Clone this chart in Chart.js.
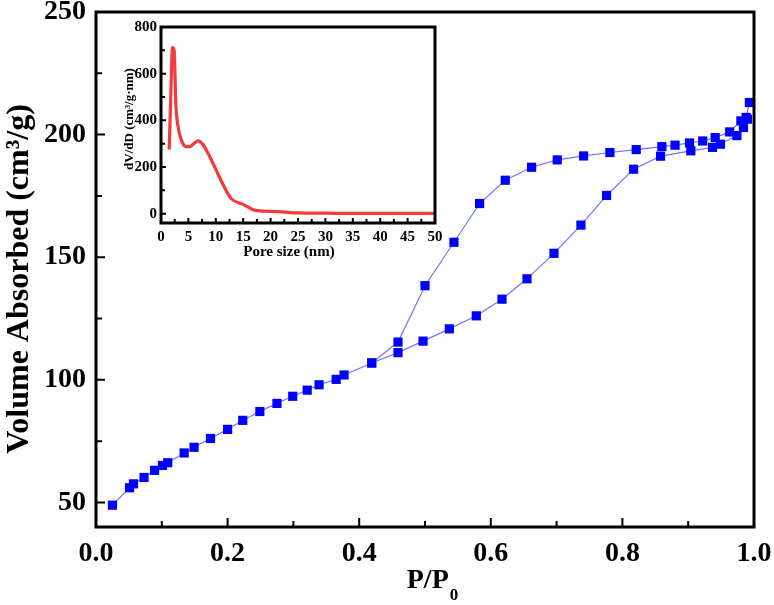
<!DOCTYPE html>
<html>
<head>
<meta charset="utf-8">
<script src="https://cdn.jsdelivr.net/npm/chart.js@4.4.1/dist/chart.umd.min.js"></script>
<style>
  html, body { margin: 0; padding: 0; background: #fff; }
  #wrap { position: relative; width: 774px; height: 605px; }
  #main { position: absolute; left: 0; top: 0; }
  #inset { position: absolute; left: 120px; top: 16px; }
</style>
</head>
<body>
<div id="wrap">
  <canvas id="main" width="774" height="605"></canvas>
  <canvas id="inset" width="325" height="250"></canvas>
</div>
<script>
/* ── Isotherm data (P/P0 vs volume absorbed, cm3/g) ── */
const adsP = [0.025, 0.051, 0.057, 0.073, 0.089, 0.101, 0.109, 0.134, 0.149, 0.174, 0.200, 0.223, 0.249,
              0.275, 0.299, 0.321, 0.339, 0.365, 0.377, 0.419, 0.459, 0.497, 0.537, 0.578, 0.617, 0.655,
              0.696, 0.737, 0.776, 0.817, 0.858, 0.904, 0.937, 0.949, 0.974, 0.984, 0.990];
const adsV = [48.9, 56.0, 57.6, 60.2, 63.1, 65.1, 66.2, 70.2, 72.5, 76.1, 79.8, 83.5, 87.1,
              90.4, 93.3, 95.8, 98.0, 100.2, 102.0, 106.9, 111.1, 115.8, 120.8, 126.1, 132.9, 141.2,
              151.6, 163.1, 175.2, 185.9, 191.2, 193.4, 194.8, 196.1, 199.6, 202.9, 206.3];

const desP = [0.993, 0.988, 0.980, 0.963, 0.941, 0.922, 0.902, 0.880, 0.860, 0.821, 0.781, 0.741,
              0.701, 0.662, 0.622, 0.583, 0.544, 0.500, 0.459, 0.419];
const desV = [213.1, 207.0, 205.6, 201.1, 198.8, 197.4, 196.6, 195.7, 195.1, 193.9, 192.7, 191.3,
              189.7, 186.7, 181.4, 171.9, 156.1, 138.4, 115.4, 106.9];

/* ── Inset: pore size distribution ── */
const poreSize = [1.5, 1.8, 2.1, 2.4, 2.7, 3.0, 3.4, 3.9, 4.5, 5.2, 6.0, 6.8, 7.6, 8.5, 9.5,
                  11.0, 12.8, 15.0, 17.2, 20.0, 22.0, 25.0, 30.0, 35.0, 40.0, 45.0, 50.0];
const dVdD     = [275, 520, 712, 700, 470, 390, 340, 305, 288, 287, 300, 312, 298, 262, 215,
                  140, 65, 40, 14, 10, 8, 3, 2, 1, 1, 1, 1];

/* ── Tick values ── */
const mainXMajor = [0, 0.2, 0.4, 0.6, 0.8, 1.0];
const mainXMinor = [0.1, 0.3, 0.5, 0.7, 0.9];
const mainYMajor = [50, 100, 150, 200, 250];
const mainYMinor = [75, 125, 175, 225];
const insetXMajor = [0, 5, 10, 15, 20, 25, 30, 35, 40, 45, 50];
const insetXMinor = [2.5, 7.5, 12.5, 17.5, 22.5, 27.5, 32.5, 37.5, 42.5, 47.5];
const insetYMajor = [0, 200, 400, 600, 800];
const insetYMinor = [100, 300, 500, 700];

const SERIF = '"Liberation Serif", "Times New Roman", serif';

// inward ticks on bottom/left + thick box frame
const decor = {
  id: 'decor',
  afterDraw(chart, args, o) {
    const { ctx, chartArea: a, scales: { x, y } } = chart;
    ctx.save();
    ctx.strokeStyle = '#000';
    ctx.lineWidth = o.tickWidth;
    ctx.beginPath();
    o.xMajor.forEach(v => { const px = x.getPixelForValue(v); ctx.moveTo(px, a.bottom); ctx.lineTo(px, a.bottom - o.majorLen); });
    o.xMinor.forEach(v => { const px = x.getPixelForValue(v); ctx.moveTo(px, a.bottom); ctx.lineTo(px, a.bottom - o.minorLen); });
    o.yMajor.forEach(v => { const py = y.getPixelForValue(v); ctx.moveTo(a.left, py); ctx.lineTo(a.left + o.majorLen, py); });
    o.yMinor.forEach(v => { const py = y.getPixelForValue(v); ctx.moveTo(a.left, py); ctx.lineTo(a.left + o.minorLen, py); });
    ctx.stroke();
    ctx.lineWidth = o.frameWidth;
    ctx.strokeRect(a.left, a.top, a.right - a.left, a.bottom - a.top);
    ctx.restore();
  }
};

const mainTitles = {
  id: 'mainTitles',
  afterDraw(chart) {
    const ctx = chart.ctx;
    ctx.save();
    ctx.fillStyle = '#000';
    // x title with subscript
    ctx.font = 'bold 28px ' + SERIF;
    ctx.textBaseline = 'alphabetic';
    const t1 = 'P/P';
    const w1 = ctx.measureText(t1).width;
    ctx.font = 'bold 17px ' + SERIF;
    const w2 = ctx.measureText('0').width;
    const x0 = 432 - (w1 + w2) / 2;
    ctx.font = 'bold 28px ' + SERIF;
    ctx.textAlign = 'left';
    ctx.fillText(t1, x0, 588);
    ctx.font = 'bold 17px ' + SERIF;
    ctx.fillText('0', x0 + w1 + 1, 600);
    // y title
    ctx.translate(20, 279);
    ctx.rotate(-Math.PI / 2);
    ctx.font = 'bold 32px ' + SERIF;
    ctx.textAlign = 'center';
    ctx.textBaseline = 'middle';
    ctx.fillText('Volume Absorbed (cm³/g)', 0, 0);
    ctx.restore();
  }
};

const insetTitles = {
  id: 'insetTitles',
  afterDraw(chart) {
    const { ctx, chartArea: a } = chart;
    ctx.save();
    ctx.fillStyle = '#000';
    ctx.font = 'bold 15px ' + SERIF;
    ctx.textAlign = 'center';
    ctx.textBaseline = 'alphabetic';
    ctx.fillText('Pore size (nm)', 169, 240);
    ctx.translate(10, (a.top + a.bottom) / 2 - 6);
    ctx.rotate(-Math.PI / 2);
    ctx.font = 'bold 13px ' + SERIF;
    ctx.textBaseline = 'middle';
    ctx.fillText('dV/dD (cm³/g·nm)', 0, 0);
    ctx.restore();
  }
};

const mainTickFont = { family: SERIF, weight: 'bold', size: 28 };
const insetTickFont = { family: SERIF, weight: 'bold', size: 15 };

const blueLine = {
  showLine: true,
  borderColor: 'rgba(90, 90, 255, 0.85)',
  borderWidth: 1.2,
  pointStyle: 'rect',
  pointRadius: 6.5,
  pointBackgroundColor: '#0000ff',
  pointBorderWidth: 0,
  tension: 0
};

// drop the extra room Chart.js keeps for edge labels
const noEdgePad = s => { s.paddingTop = 0; s.paddingBottom = 0; s.paddingLeft = 0; s.paddingRight = 0; };

// ── Main isotherm chart ──
new Chart(document.getElementById('main'), {
  type: 'scatter',
  data: {
    datasets: [
      Object.assign({ label: 'Adsorption', data: adsP.map((p, i) => ({ x: p, y: adsV[i] })) }, blueLine),
      Object.assign({ label: 'Desorption', data: desP.map((p, i) => ({ x: p, y: desV[i] })) }, blueLine)
    ]
  },
  options: {
    responsive: false,
    animation: false,
    layout: { padding: { left: 0, top: 12, right: 20, bottom: 0 } },
    plugins: {
      legend: { display: false },
      tooltip: { enabled: false },
      decor: { xMajor: mainXMajor, xMinor: mainXMinor, yMajor: mainYMajor, yMinor: mainYMinor,
               majorLen: 9, minorLen: 6, tickWidth: 2, frameWidth: 3 }
    },
    scales: {
      x: {
        type: 'linear', min: 0, max: 1,
        grid: { display: false, drawTicks: false },
        border: { display: false },
        ticks: { stepSize: 0.2, padding: 10, color: '#000', font: mainTickFont, maxRotation: 0,
                 callback: v => Number(v).toFixed(1) },
        afterFit: s => { s.height = 78; noEdgePad(s); }
      },
      y: {
        min: 40, max: 250,
        grid: { display: false, drawTicks: false },
        border: { display: false },
        ticks: { padding: 10, color: '#000', font: mainTickFont },
        afterBuildTicks: s => { s.ticks = mainYMajor.map(v => ({ value: v })); },
        afterFit: s => { s.width = 96; noEdgePad(s); }
      }
    }
  },
  plugins: [decor, mainTitles]
});

// ── Inset: pore size distribution ──
new Chart(document.getElementById('inset'), {
  type: 'scatter',
  data: {
    datasets: [{
      label: 'dV/dD',
      data: poreSize.map((d, i) => ({ x: d, y: dVdD[i] })),
      showLine: true,
      borderColor: '#f03c3c',
      borderWidth: 3.2,
      pointRadius: 0,
      cubicInterpolationMode: 'monotone'
    }]
  },
  options: {
    responsive: false,
    animation: false,
    layout: { padding: { left: 0, top: 11, right: 10, bottom: 0 } },
    plugins: {
      legend: { display: false },
      tooltip: { enabled: false },
      decor: { xMajor: insetXMajor, xMinor: insetXMinor, yMajor: insetYMajor, yMinor: insetYMinor,
               majorLen: 5, minorLen: 4, tickWidth: 2, frameWidth: 3 }
    },
    scales: {
      x: {
        type: 'linear', min: 0, max: 50,
        grid: { display: false, drawTicks: false },
        border: { display: false },
        ticks: { stepSize: 5, padding: 5, color: '#000', font: insetTickFont, maxRotation: 0, autoSkip: false },
        afterFit: s => { s.height = 43; noEdgePad(s); }
      },
      y: {
        min: -40, max: 800,
        grid: { display: false, drawTicks: false },
        border: { display: false },
        ticks: { padding: 4, color: '#000', font: insetTickFont },
        afterBuildTicks: s => { s.ticks = insetYMajor.map(v => ({ value: v })); },
        afterFit: s => { s.width = 41; noEdgePad(s); }
      }
    }
  },
  plugins: [decor, insetTitles]
});
</script>
</body>
</html>
